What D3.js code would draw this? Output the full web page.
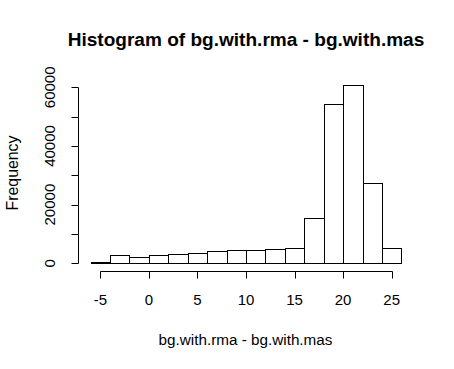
<!DOCTYPE html>
<html><head><meta charset="utf-8">
<script src="https://cdn.jsdelivr.net/npm/d3@7"></script>
<style>body{margin:0;background:#fff}svg{display:block}text{font-family:"Liberation Sans",Arial,sans-serif;fill:#000}</style>
</head><body>
<script>
const binStarts = [-6,-4,-2,0,2,4,6,8,10,12,14,16,18,20,22,24];
const binWidth = 2;
const counts = [500,2700,2000,2700,3200,3500,4100,4400,4400,4800,5100,15300,54300,60700,27300,5100];
const xTicks = [-5,0,5,10,15,20,25];
const yTicks = [0,10000,20000,30000,40000,50000,60000];
const yLabels = [0,20000,40000,60000];
const title = "Histogram of bg.with.rma - bg.with.mas";
const xTitle = "bg.with.rma - bg.with.mas";
const yTitle = "Frequency";

const W=454,H=369;
const svg=d3.select("body").append("svg").attr("width",W).attr("height",H);
const x=d3.scaleLinear().domain([-7.28,27.28]).range([78.2,413.8]);
const y=d3.scaleLinear().domain([0,60000]).range([263.3,87.3]);

function fit(sel,target){
  const base=+sel.attr("font-size");
  const w=sel.node().getComputedTextLength();
  if(w>0) sel.attr("font-size",base*target/w);
}

svg.append("g").selectAll("rect").data(counts).join("rect")
 .attr("x",(d,i)=>Math.round(x(binStarts[i]))+0.5)
 .attr("width",(d,i)=>Math.round(x(binStarts[i]+binWidth))-Math.round(x(binStarts[i])))
 .attr("y",d=>Math.round(y(d))+0.5)
 .attr("height",d=>Math.max(0,Math.round(y(0))-Math.round(y(d))))
 .attr("fill","#fff").attr("stroke","#000").attr("stroke-width",1);

// x axis
const xa=svg.append("g");
const xl=271.5;
xa.append("line").attr("x1",Math.round(x(xTicks[0]))+0.5).attr("x2",Math.round(x(xTicks[xTicks.length-1]))+0.5)
 .attr("y1",xl).attr("y2",xl).attr("stroke","#000");
xa.selectAll("line.t").data(xTicks).join("line").attr("class","t")
 .attr("x1",d=>Math.round(x(d))+0.5).attr("x2",d=>Math.round(x(d))+0.5)
 .attr("y1",xl).attr("y2",xl+7).attr("stroke","#000");
xa.selectAll("text").data(xTicks).join("text")
 .attr("x",d=>x(d)).attr("y",305).attr("text-anchor","middle").attr("font-size",15).text(d=>d);

// y axis
const yx=78.5;
const ya=svg.append("g");
ya.append("line").attr("x1",yx).attr("x2",yx).attr("y1",Math.round(y(0))+0.5).attr("y2",Math.round(y(60000))+0.5).attr("stroke","#000");
ya.selectAll("line.t").data(yTicks).join("line").attr("class","t")
 .attr("x1",yx).attr("x2",yx-7).attr("y1",d=>Math.round(y(d))+0.5).attr("y2",d=>Math.round(y(d))+0.5).attr("stroke","#000");
ya.selectAll("text").data(yLabels).join("text")
 .attr("transform",d=>`translate(54.5,${y(d)}) rotate(-90)`).attr("text-anchor","middle").attr("font-size",15).text(d=>d);

const t=svg.append("text").attr("x",246).attr("y",46).attr("text-anchor","middle").attr("font-size",17.5).attr("font-weight","bold").text(title);
fit(t,357);
const xt=svg.append("text").attr("x",245.5).attr("y",344.5).attr("text-anchor","middle").attr("font-size",14.5).text(xTitle);
fit(xt,174);
const yt=svg.append("text").attr("transform","translate(18,173) rotate(-90)").attr("text-anchor","middle").attr("font-size",14.5).text(yTitle);
fit(yt,75);
</script>
</body></html>
